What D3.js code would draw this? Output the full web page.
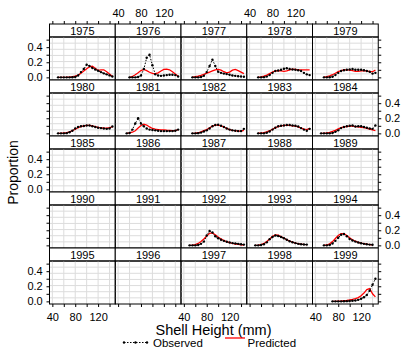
<!DOCTYPE html>
<html><head><meta charset="utf-8">
<script src="https://cdn.jsdelivr.net/npm/d3@7"></script>
<style>
body{margin:0;background:#fff}
svg{display:block}
text{font-family:"Liberation Sans",Arial,Helvetica,sans-serif;fill:#000}
</style>
</head><body>
<svg id="chart" width="404" height="349"></svg>
<script>
// Survey years, one panel each (5 x 5 lattice, read left-to-right, top-to-bottom)
const years = [1975,1976,1977,1978,1979,1980,1981,1982,1983,1984,1985,1986,1987,1988,1989,
               1990,1991,1992,1993,1994,1995,1996,1997,1998,1999];
// Shell height bins (mm)
const sizeBins = [45,50,55,60,65,70,75,80,85,90,95,100,105,110,115,120,125,130,135,140,145];
const xTicks = [40,60,80,100,120,140];
const xLabels = [40,80,120];
const yTicks = [0,0.1,0.2,0.3,0.4,0.5];
const yLabels = [0,0.2,0.4];

// Observed / predicted proportion at size, per year (null = no sample in bin)
const obs1975 = [null,0,0,0,0,0,0.002,0.005,0.025,0.07,0.11,0.168,0.15,0.125,0.105,0.088,0.07,0.053,0.04,0.026,0.012];
const pred1975 = [null,0,0,0.001,0.002,0.004,0.008,0.015,0.03,0.055,0.085,0.115,0.14,0.148,0.12,0.092,0.098,0.1,0.075,0.045,0.012];
const obs1976 = [null,null,null,0,0,0,0.005,0.025,0.11,0.26,0.3,0.16,0.04,0.025,0.02,0.025,0.03,0.035,0.035,0.03,0.012];
const pred1976 = [null,null,null,0,0.012,0.035,0.06,0.09,0.105,0.09,0.068,0.052,0.048,0.06,0.085,0.105,0.11,0.1,0.075,0.045,0.015];
const obs1977 = [null,null,0,0,0,0.005,0.02,0.07,0.15,0.235,0.15,0.075,0.06,0.05,0.043,0.035,0.025,0.02,0.015,0.012,0.008];
const pred1977 = [null,null,0.003,0.008,0.015,0.025,0.04,0.055,0.07,0.085,0.1,0.105,0.095,0.075,0.06,0.07,0.095,0.105,0.09,0.07,0.05];
const obs1978 = [null,null,0,0,0.003,0.01,0.03,0.06,0.085,0.09,0.1,0.115,0.12,0.11,0.105,0.1,0.095,0.085,0.06,0.04,0.03];
const pred1978 = [null,null,0.002,0.006,0.015,0.03,0.05,0.07,0.085,0.09,0.085,0.08,0.085,0.1,0.11,0.105,0.1,0.1,0.1,0.1,0.1];
const obs1979 = [null,null,0,0,0.002,0.008,0.03,0.06,0.085,0.095,0.1,0.105,0.11,0.1,0.1,0.1,0.095,0.085,0.075,0.05,0.06];
const pred1979 = [null,null,0.003,0.01,0.02,0.035,0.055,0.075,0.09,0.1,0.1,0.095,0.09,0.08,0.08,0.085,0.09,0.085,0.075,0.075,0.095];
const obs1980 = [null,0,0,0,0.003,0.015,0.035,0.065,0.085,0.095,0.098,0.105,0.105,0.095,0.085,0.075,0.07,0.065,0.06,0.065,0.09];
const pred1980 = [null,0,0.002,0.005,0.01,0.02,0.035,0.055,0.075,0.09,0.1,0.105,0.105,0.1,0.09,0.08,0.075,0.07,0.07,0.075,0.085];
const obs1981 = [null,null,0,0.005,0.05,0.13,0.2,0.13,0.095,0.065,0.05,0.045,0.04,0.035,0.03,0.03,0.03,0.03,0.03,0.035,0.05];
const pred1981 = [null,null,0,0.005,0.015,0.035,0.07,0.105,0.122,0.11,0.085,0.065,0.055,0.05,0.045,0.045,0.042,0.04,0.037,0.037,0.05];
const obs1982 = [null,null,0,0,0.003,0.01,0.025,0.04,0.065,0.095,0.11,0.115,0.1,0.085,0.065,0.05,0.04,0.035,0.03,0.03,0.06];
const pred1982 = [null,null,0,0.003,0.008,0.02,0.035,0.05,0.075,0.095,0.11,0.11,0.1,0.085,0.065,0.05,0.04,0.035,0.03,0.03,0.04];
const obs1983 = [null,null,0,0,0,0.008,0.025,0.05,0.075,0.095,0.1,0.105,0.11,0.11,0.105,0.1,0.09,0.07,0.05,0.035,0.06];
const pred1983 = [null,null,0.002,0.005,0.01,0.02,0.035,0.055,0.075,0.09,0.1,0.105,0.105,0.105,0.1,0.095,0.085,0.07,0.055,0.05,0.065];
const obs1984 = [null,0,0,0,0,0.005,0.02,0.04,0.07,0.085,0.095,0.1,0.105,0.09,0.095,0.095,0.085,0.075,0.065,0.06,0.105];
const pred1984 = [null,0,0.002,0.005,0.012,0.025,0.04,0.06,0.075,0.085,0.09,0.095,0.095,0.09,0.085,0.08,0.075,0.065,0.055,0.045,0.035];
const obs1992 = [null,0,0,0,0.005,0.02,0.05,0.13,0.19,0.17,0.12,0.095,0.075,0.06,0.047,0.038,0.03,0.025,0.02,0.015,0.01];
const pred1992 = [null,0,0.003,0.01,0.025,0.05,0.085,0.125,0.16,0.165,0.14,0.11,0.085,0.065,0.048,0.035,0.025,0.018,0.012,0.008,0.005];
const obs1993 = [null,0,0,0.005,0.015,0.04,0.08,0.11,0.13,0.125,0.11,0.095,0.075,0.055,0.042,0.03,0.02,0.015,0.012,0.01,null];
const pred1993 = [null,0,0.003,0.01,0.025,0.05,0.085,0.12,0.14,0.135,0.115,0.095,0.075,0.058,0.043,0.03,0.022,0.016,0.012,0.01,null];
const obs1994 = [null,null,0,0,0.005,0.025,0.06,0.1,0.14,0.15,0.12,0.085,0.065,0.05,0.038,0.027,0.02,0.014,0.01,0.008,null];
const pred1994 = [null,null,0,0.005,0.02,0.05,0.09,0.13,0.155,0.155,0.13,0.1,0.075,0.055,0.04,0.03,0.022,0.015,0.01,0.008,null];
const obs1999 = [null,null,null,null,null,0,0,0,0,0.002,0.003,0.005,0.008,0.012,0.02,0.035,0.055,0.085,0.14,0.22,0.3];
const pred1999 = [null,null,null,null,null,0,0.001,0.003,0.005,0.008,0.012,0.018,0.025,0.035,0.05,0.075,0.11,0.155,0.17,0.1,0.06];

const seriesByYear = new Map([
  [1975,[obs1975,pred1975]],[1976,[obs1976,pred1976]],[1977,[obs1977,pred1977]],
  [1978,[obs1978,pred1978]],[1979,[obs1979,pred1979]],[1980,[obs1980,pred1980]],
  [1981,[obs1981,pred1981]],[1982,[obs1982,pred1982]],[1983,[obs1983,pred1983]],
  [1984,[obs1984,pred1984]],[1992,[obs1992,pred1992]],[1993,[obs1993,pred1993]],
  [1994,[obs1994,pred1994]],[1999,[obs1999,pred1999]]
]);

// ---- layout ----
const ncol = 5, gridLeft = 49.5, gridTop = 24, panelW = 65.75, rowH = 56, stripH = 13;
const plotH = rowH - stripH;
const font = 11;

const svg = d3.select("#chart");
const x = d3.scaleLinear().domain([35,150]).range([0, panelW]);
const y = d3.scaleLinear().domain([-0.035,0.535]).range([plotH, 0]);

const defs = svg.append("defs");
defs.append("clipPath").attr("id","panelClip")
  .append("rect").attr("x",0).attr("y",0).attr("width",panelW).attr("height",plotH);

const line = d3.line()
  .defined(d => d.v !== null)
  .x(d => x(d.s)).y(d => y(d.v));

years.forEach((yr, i) => {
  const c = i % ncol, r = Math.floor(i / ncol);
  const gx = gridLeft + c * panelW, gy = gridTop + r * rowH;
  const g = svg.append("g").attr("transform", `translate(${gx},${gy})`);

  // strip
  g.append("rect").attr("x",0).attr("y",0).attr("width",panelW).attr("height",stripH)
    .attr("fill","#fff").attr("stroke","#000").attr("stroke-width",1);
  g.append("text").attr("x",panelW/2).attr("y",stripH/2 + 4)
    .attr("text-anchor","middle").attr("font-size",font).text(yr);

  const p = g.append("g").attr("transform",`translate(0,${stripH})`);

  // grid
  const grid = p.append("g").attr("stroke","#dcdcdc").attr("stroke-width",1);
  grid.selectAll("line.v").data(xTicks).join("line").attr("class","v")
    .attr("x1",d=>x(d)).attr("x2",d=>x(d)).attr("y1",0).attr("y2",plotH);
  const hLines = d3.range(1,7).map(k => y.invert(plotH * k / 7));
  grid.selectAll("line.h").data(hLines).join("line").attr("class","h")
    .attr("x1",0).attr("x2",panelW).attr("y1",d=>y(d)).attr("y2",d=>y(d));

  const s = seriesByYear.get(yr);
  if (s) {
    const obs = sizeBins.map((b,k) => ({s:b, v:s[0][k]}));
    const pred = sizeBins.map((b,k) => ({s:b, v:s[1][k]}));
    const data = p.append("g").attr("clip-path","url(#panelClip)");
    data.append("path").datum(pred).attr("d", line)
      .attr("fill","none").attr("stroke","#ff0000").attr("stroke-width",1.3);
    data.append("path").datum(obs).attr("d", line)
      .attr("fill","none").attr("stroke","#000").attr("stroke-width",1)
      .attr("stroke-dasharray","1.5,1.5");
    data.selectAll("circle").data(obs.filter(d => d.v !== null)).join("circle")
      .attr("cx",d=>x(d.s)).attr("cy",d=>y(d.v)).attr("r",1.2).attr("fill","#000");
  }

  // panel border
  p.append("rect").attr("x",0).attr("y",0).attr("width",panelW).attr("height",plotH)
    .attr("fill","none").attr("stroke","#000").attr("stroke-width",1);

  const styleAxis = a => {
    a.select(".domain").remove();
    a.attr("font-size",font).attr("font-family",null);
    a.selectAll("line").attr("stroke","#000");
    a.selectAll("text").attr("fill","#000");
  };
  const xFmt = lab => d => lab && xLabels.includes(d) ? d : "";
  const yFmt = lab => d => lab && yLabels.includes(d) ? d3.format(".1f")(d) : "";

  if (r === 0) {
    g.append("g").call(d3.axisTop(x).tickValues(xTicks).tickSize(3).tickPadding(4.3)
      .tickFormat(xFmt(c % 2 === 1))).call(styleAxis);
  }
  if (r === 4) {
    p.append("g").attr("transform",`translate(0,${plotH})`)
      .call(d3.axisBottom(x).tickValues(xTicks).tickSize(3).tickPadding(6)
      .tickFormat(xFmt(c % 2 === 0))).call(styleAxis);
  }
  if (c === 0) {
    p.append("g").call(d3.axisLeft(y).tickValues(yTicks).tickSize(3).tickPadding(3.8)
      .tickFormat(yFmt(r % 2 === 0))).call(styleAxis);
  }
  if (c === ncol - 1) {
    p.append("g").attr("transform",`translate(${panelW},0)`)
      .call(d3.axisRight(y).tickValues(yTicks).tickSize(3).tickPadding(3.7)
      .tickFormat(yFmt(r % 2 === 1))).call(styleAxis);
  }
});

// axis titles
svg.append("text").attr("transform","translate(18,172.5) rotate(-90)")
  .attr("text-anchor","middle").attr("font-size",14).text("Proportion");
svg.append("text").attr("x",213.5).attr("y",334.5)
  .attr("text-anchor","middle").attr("font-size",14.5).text("Shell Height (mm)");

// legend
const lg = svg.append("g");
const obsKey = [124,135.5,147];
lg.append("line").attr("x1",obsKey[0]).attr("x2",obsKey[2]).attr("y1",342.5).attr("y2",342.5)
  .attr("stroke","#000").attr("stroke-width",1).attr("stroke-dasharray","1.5,1.5");
lg.selectAll("circle").data(obsKey).join("circle")
  .attr("cx",d=>d).attr("cy",342.5).attr("r",1.2).attr("fill","#000");
lg.append("text").attr("x",153).attr("y",347.2).attr("font-size",11.5).text("Observed");
lg.append("line").attr("x1",225).attr("x2",245).attr("y1",338).attr("y2",338)
  .attr("stroke","#ff0000").attr("stroke-width",1.3);
lg.append("text").attr("x",247.5).attr("y",347.2).attr("font-size",11.5).text("Predicted");
</script>
</body></html>
